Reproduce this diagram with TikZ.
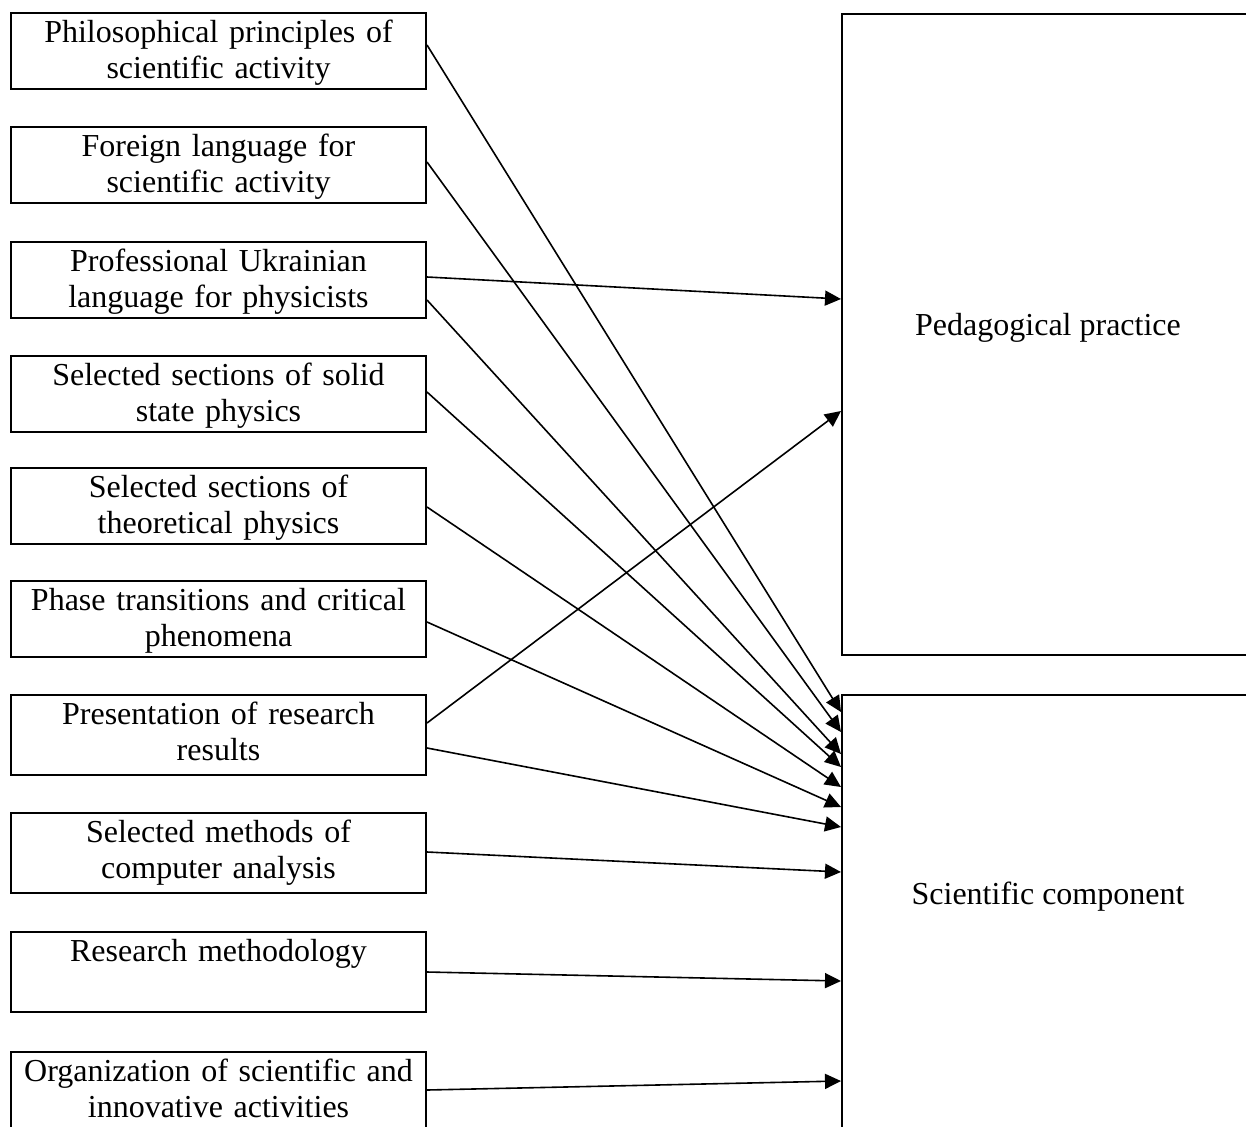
\documentclass[tikz,border=0pt]{standalone}
\usepackage{fontspec}
\setmainfont{Liberation Serif}
\usetikzlibrary{arrows.meta}
\begin{document}
\begin{tikzpicture}[x=1pt, y=-1pt,
		box/.style={rectangle, draw, line width=2pt, minimum width=415pt, minimum height=76pt, inner sep=0pt},
		txt/.style={anchor=north, yshift=-8pt, text width=410pt, align=center, inner sep=0pt, font=\fontsize{32}{36}\selectfont},
		big/.style={rectangle, draw, line width=2pt, minimum width=412pt, inner sep=0pt},
		arr/.style={line width=1.6pt, -{Triangle[length=16pt, width=15pt]}}]
		\useasboundingbox (0,0) rectangle (1246,1126);
		% left column
		\node[box] (B1) at (218.5,51) {};
		\node[box] (B2) at (218.5,165) {};
		\node[box] (B3) at (218.5,279.5) {};
		\node[box] (B4) at (218.5,393.5) {};
		\node[box] (B5) at (218.5,505.5) {};
		\node[box] (B6) at (218.5,619) {};
		\node[box, minimum height=80pt] (B7) at (218.5,735) {};
		\node[box, minimum height=80pt] (B8) at (218.5,853) {};
		\node[box, minimum height=80pt] (B9) at (218.5,972) {};
		\node[box] (B10) at (218.5,1090) {};
		\node[txt] (T1) at (B1.north) {Philosophical principles of\\scientific activity};
		\node[txt] (T2) at (B2.north) {Foreign language for\\scientific activity};
		\node[txt] (T3) at (B3.north) {Professional Ukrainian\\language for physicists};
		\node[txt] (T4) at (B4.north) {Selected sections of solid\\state physics};
		\node[txt] (T5) at (B5.north) {Selected sections of\\theoretical physics};
		\node[txt] (T6) at (B6.north) {Phase transitions and critical\\phenomena};
		\node[txt] (T7) at (B7.north) {Presentation of research\\results};
		\node[txt] (T8) at (B8.north) {Selected methods of\\computer analysis};
		\node[txt] (T9) at (B9.north) {Research methodology};
		\node[txt] (T10) at (B10.north) {Organization of scientific and\\innovative activities};
		% right column
		\node[big, minimum height=641pt] (Ped) at (1048,334.5) {};
		\node[big, minimum height=460pt] (Sci) at (1048,925) {};
		\node[font=\fontsize{32}{36}\selectfont] (TP) at (1048,328) {Pedagogical practice};
		\node[font=\fontsize{32}{36}\selectfont] (TS) at (1048,897) {Scientific component};
		% connections
		\draw[arr] ([yshift=6pt]B1.east) -- ([yshift=-18pt]Sci.north west);
		\draw[arr] ([yshift=3pt]B2.east) -- ([yshift=-38pt]Sci.north west);
		\draw[arr] ([yshift=2.5pt]B3.east) -- ([yshift=-286pt]Ped.north west);
		\draw[arr] ([yshift=-20.5pt]B3.east) -- ([yshift=-60pt]Sci.north west);
		\draw[arr] ([yshift=1.5pt]B4.east) -- ([yshift=-73pt]Sci.north west);
		\draw[arr] ([yshift=-1.5pt]B5.east) -- ([yshift=-93pt]Sci.north west);
		\draw[arr] ([yshift=-3pt]B6.east) -- ([yshift=-113pt]Sci.north west);
		\draw[arr] ([yshift=12pt]B7.east) -- ([yshift=-398pt]Ped.north west);
		\draw[arr] ([yshift=-13pt]B7.east) -- ([yshift=-133pt]Sci.north west);
		\draw[arr] ([yshift=1pt]B8.east) -- ([yshift=-178pt]Sci.north west);
		\draw[arr] (B9.east) -- ([yshift=-287pt]Sci.north west);
		\draw[arr] (B10.east) -- ([yshift=-387pt]Sci.north west);
	\end{tikzpicture}
\end{document}
